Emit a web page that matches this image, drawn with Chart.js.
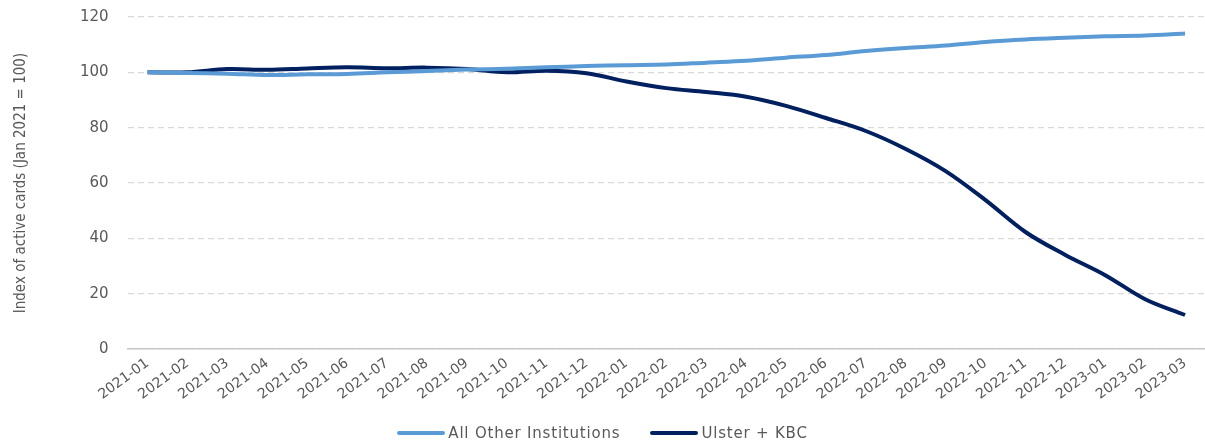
<!DOCTYPE html>
<html>
<head>
<meta charset="utf-8">
<script src="https://cdn.jsdelivr.net/npm/chart.js@4/dist/chart.umd.min.js"></script>
<style>
  html, body { margin: 0; padding: 0; background: #fff; overflow: hidden; }
  #wrap { position: relative; width: 1205px; height: 443px; overflow: hidden; }
  #chart { position: absolute; left: 0; top: -11px; }
  #legend { position: absolute; left: 0; top: 423px; width: 1205px; text-align: center;
            font-family: 'DejaVu Sans', sans-serif; font-size: 15px; letter-spacing: 0.8px;
            color: #595959; line-height: 20px; }
  #legend span.item { display: inline-block; margin: 0 15px; }
  #legend span.swatch { display: inline-block; width: 48px; height: 4px; border-radius: 2px;
            vertical-align: middle; margin-right: 3px; position: relative; top: -1px; }
</style>
</head>
<body>
<div id="wrap">
  <canvas id="chart" width="1205" height="454"></canvas>
  <div id="legend"></div>
</div>
<script>
const months = ["2021-01","2021-02","2021-03","2021-04","2021-05","2021-06","2021-07","2021-08","2021-09","2021-10","2021-11","2021-12",
  "2022-01","2022-02","2022-03","2022-04","2022-05","2022-06","2022-07","2022-08","2022-09","2022-10","2022-11","2022-12",
  "2023-01","2023-02","2023-03"];
const otherInst = [100, 99.8, 99.5, 99.0, 99.3, 99.4, 100.0, 100.5, 101.0, 101.3, 101.8, 102.3,
  102.6, 102.8, 103.5, 104.2, 105.3, 106.3, 107.7, 108.8, 109.7, 111.0, 111.9, 112.5,
  113.0, 113.3, 114.0];
const ulsterKbc = [100, 100, 101.2, 100.9, 101.4, 101.8, 101.5, 101.7, 101.2, 100.0, 100.6, 99.7,
  96.7, 94.3, 92.9, 91.2, 87.9, 83.5, 78.8, 72.3, 64.3, 53.8, 42.3, 34.0,
  26.7, 18.0, 12.3];
const yTicks = [0, 20, 40, 60, 80, 100, 120];

const grey = '#595959';
const ctx = document.getElementById('chart');

const chart = new Chart(ctx, {
  type: 'line',
  data: {
    labels: months,
    datasets: [{
      label: 'All Other Institutions',
      data: otherInst,
      borderColor: '#5b9bd5',
      backgroundColor: '#5b9bd5',
      borderWidth: 4,
      pointRadius: 0,
      tension: 0.35
    }, {
      label: 'Ulster + KBC',
      data: ulsterKbc,
      borderColor: '#002060',
      backgroundColor: '#002060',
      borderWidth: 4,
      pointRadius: 0,
      tension: 0.35
    }]
  },
  options: {
    responsive: false,
    animation: false,
    layout: { padding: { left: 12, right: 0, top: 0, bottom: 34 } },
    plugins: {
      legend: { display: false },
      tooltip: { enabled: false }
    },
    scales: {
      x: {
        offset: true,
        grid: { display: false, drawTicks: false },
        border: { display: true, color: '#c8c8c8', width: 1.5 },
        ticks: {
          color: grey,
          minRotation: 36,
          maxRotation: 36,
          autoSkip: false,
          padding: 6,
          font: { family: 'DejaVu Sans', size: 14 }
        }
      },
      y: {
        min: 0,
        max: 120,
        afterBuildTicks: axis => { axis.ticks = yTicks.map(v => ({ value: v })); },
        grid: {
          color: '#d9d9d9',
          lineWidth: 1.2,
          drawTicks: false
        },
        border: { display: false, dash: [6, 4] },
        ticks: {
          color: grey,
          padding: 19,
          font: { family: 'DejaVu Sans', size: 15 }
        },
        title: {
          display: true,
          text: 'Index of active cards (Jan 2021 = 100)',
          color: grey,
          padding: { top: 0, bottom: 31 },
          font: { family: 'DejaVu Sans Condensed', size: 15 }
        }
      }
    }
  }
});

// HTML legend built from the chart's datasets
const legendEl = document.getElementById('legend');
chart.data.datasets.forEach(ds => {
  const item = document.createElement('span');
  item.className = 'item';
  const sw = document.createElement('span');
  sw.className = 'swatch';
  sw.style.background = ds.borderColor;
  item.appendChild(sw);
  item.appendChild(document.createTextNode(ds.label));
  legendEl.appendChild(item);
});
</script>
</body>
</html>
